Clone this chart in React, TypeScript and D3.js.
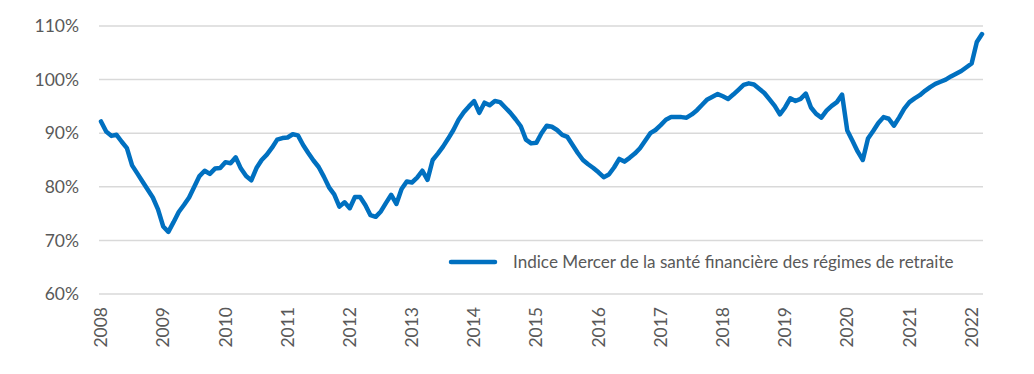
import React from 'react';
import * as d3 from 'd3';

// Indice Mercer, valeurs mensuelles (janv. 2008 - mars 2022), en %
const values2008 = [92.2, 90.3, 89.5, 89.7, 88.4, 87.2, 84.0, 82.5, 81.0, 79.5, 78.0, 75.8];
const values2009 = [72.6, 71.6, 73.4, 75.3, 76.6, 78.0, 80.0, 82.0, 83.0, 82.4, 83.4, 83.5];
const values2010 = [84.6, 84.4, 85.5, 83.4, 82.0, 81.2, 83.5, 85.0, 86.0, 87.3, 88.8, 89.1];
const values2011 = [89.2, 89.8, 89.6, 87.8, 86.3, 84.9, 83.7, 81.9, 79.9, 78.6, 76.3, 77.1];
const values2012 = [76.0, 78.1, 78.1, 76.6, 74.7, 74.4, 75.4, 77.0, 78.5, 76.8, 79.6, 81.0];
const values2013 = [80.8, 81.7, 83.0, 81.3, 85.0, 86.2, 87.5, 89.0, 90.6, 92.5, 93.9, 95.0];
const values2014 = [96.0, 93.8, 95.7, 95.2, 96.0, 95.8, 94.8, 93.8, 92.6, 91.3, 88.8, 88.1];
const values2015 = [88.2, 90.0, 91.4, 91.2, 90.6, 89.7, 89.3, 87.8, 86.3, 85.0, 84.2, 83.5];
const values2016 = [82.7, 81.8, 82.3, 83.6, 85.2, 84.7, 85.4, 86.2, 87.2, 88.6, 90.0, 90.6];
const values2017 = [91.5, 92.5, 93.0, 93.0, 93.0, 92.9, 93.5, 94.3, 95.3, 96.3, 96.8, 97.3];
const values2018 = [96.9, 96.4, 97.2, 98.1, 99.0, 99.3, 99.1, 98.3, 97.5, 96.3, 95.1, 93.5];
const values2019 = [94.8, 96.5, 96.0, 96.4, 97.4, 94.8, 93.6, 92.9, 94.2, 95.1, 95.8, 97.2];
const values2020 = [90.5, 88.6, 86.6, 85.0, 89.0, 90.4, 91.9, 93.0, 92.7, 91.4, 92.9, 94.6];
const values2021 = [95.8, 96.5, 97.1, 97.9, 98.6, 99.2, 99.6, 100.0, 100.6, 101.1, 101.6, 102.3];
const values2022 = [103.0, 107.0, 108.5];

const series = [
    ...values2008, ...values2009, ...values2010, ...values2011, ...values2012,
    ...values2013, ...values2014, ...values2015, ...values2016, ...values2017,
    ...values2018, ...values2019, ...values2020, ...values2021, ...values2022,
];

const yearLabels = ['2008', '2009', '2010', '2011', '2012', '2013', '2014', '2015',
    '2016', '2017', '2018', '2019', '2020', '2021', '2022'];
const yTicks = [60, 70, 80, 90, 100, 110];
const legendLabel = 'Indice Mercer de la santé financière des régimes de retraite';

const width = 1034, height = 374;
const font = 'Lato, "Open Sans", sans-serif';
const textColor = '#595959';
const lineColor = '#0070C0';

export default function App() {
    const x = d3.scaleLinear().domain([0, series.length - 1]).range([101, 982]);
    const y = d3.scaleLinear().domain([60, 110]).range([294, 26]);

    const line = d3.line<number>()
        .x((d, i) => x(i))
        .y(d => y(d))
        .curve(d3.curveLinear);

    return (
        <div style={{ position: 'absolute', left: 0, top: 0 }}>
            <svg width={width} height={height} style={{ display: 'block', background: '#fff' }}>
                {/* grille + libellés Y */}
                <g>
                    {yTicks.map(t => (
                        <g key={t}>
                            <line x1={99} x2={983} y1={y(t)} y2={y(t)} stroke="#D9D9D9" strokeWidth={1.5} />
                            <text x={79} y={y(t)} dy="0.35em" textAnchor="end"
                                fontFamily={font} fontSize={17.5} fill={textColor}>{t}%</text>
                        </g>
                    ))}
                </g>
                {/* libellés X (années) */}
                <g>
                    {yearLabels.map((lbl, i) => (
                        <text key={lbl} transform={`translate(${x(i * 12)},307) rotate(-90)`}
                            dy="0.35em" textAnchor="end" fontFamily={font} fontSize={17.5}
                            fill={textColor}>{lbl}</text>
                    ))}
                </g>
                {/* courbe */}
                <path d={line(series) || ''} fill="none" stroke={lineColor} strokeWidth={4.5}
                    strokeLinejoin="round" strokeLinecap="round" />
                {/* légende */}
                <g>
                    <line x1={451} x2={495} y1={262} y2={262} stroke={lineColor} strokeWidth={4.5}
                        strokeLinecap="round" />
                    <text x={513} y={262} dy="0.35em" fontFamily={font} fontSize={17.1}
                        fill={textColor}>{legendLabel}</text>
                </g>
            </svg>
        </div>
    );
}
